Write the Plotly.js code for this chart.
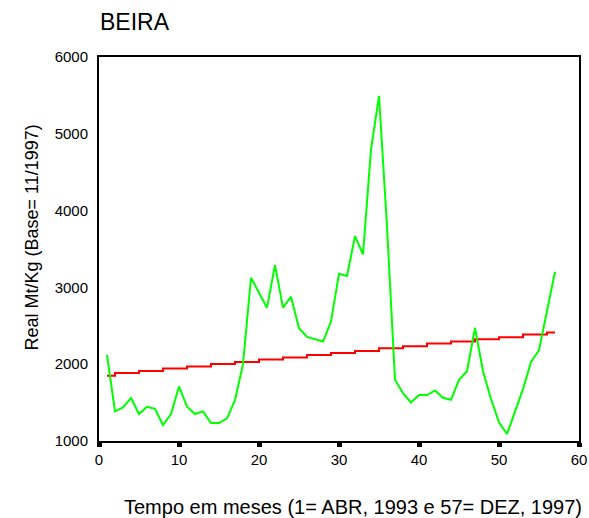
<!DOCTYPE html>
<html>
<head>
<meta charset="utf-8">
<script src="https://cdn.plot.ly/plotly-3.0.1.min.js"></script>
<style>html,body{margin:0;padding:0;background:#fff;}#chart{width:589px;height:518px;}</style>
</head>
<body>
<div id="chart"></div>
<script>
const months = Array.from({length: 57}, (_, i) => i + 1);
const priceBeira = [2121,1386,1437,1559,1351,1446,1420,1208,1351,1710,
                    1446,1351,1386,1234,1234,1294,1533,2000,3126,2931,
                    2736,3290,2736,2879,2468,2355,2325,2295,2555,3178,
                    3148,3667,3429,4793,5495,3797,1797,1623,1502,1598,
                    1598,1658,1563,1537,1797,1909,2472,1909,1546,1242,
                    1091,1381,1675,2030,2182,2693,3204];
const trendBeira = [1848,1887,1887,1887,1913,1913,1913,1943,1943,1943,
                    1969,1969,1969,2004,2004,2004,2030,2030,2030,2060,
                    2060,2060,2086,2086,2086,2121,2121,2121,2147,2147,
                    2147,2173,2173,2173,2208,2208,2208,2234,2234,2234,
                    2269,2269,2269,2295,2295,2295,2325,2325,2325,2351,
                    2351,2351,2386,2386,2386,2412,2412];
const xTicks = [0,10,20,30,40,50,60];
const yTicks = [1000,2000,3000,4000,5000,6000];
const titleText = 'BEIRA';
const xTitle = 'Tempo em meses (1= ABR, 1993 e 57= DEZ, 1997)';
const yTitle = 'Real Mt/Kg (Base= 11/1997)';

const font = 'Liberation Sans, Arial, sans-serif';

const traces = [
  {x: months, y: trendBeira, type: 'scatter', mode: 'lines',
   line: {color: '#ff0000', width: 2, shape: 'hv'}, hoverinfo: 'skip'},
  {x: months, y: priceBeira, type: 'scatter', mode: 'lines',
   line: {color: '#00ff00', width: 2}, hoverinfo: 'skip'}
];

const layout = {
  width: 589, height: 518,
  margin: {l: 99, r: 10, t: 57, b: 77, pad: 0},
  paper_bgcolor: '#fff', plot_bgcolor: '#fff',
  showlegend: false,
  font: {family: font, color: '#000', size: 15},
  title: {text: titleText, font: {family: font, size: 23, color: '#000'},
          xref: 'container', x: 100/589, xanchor: 'left',
          yref: 'container', y: 1 - 22/518, yanchor: 'middle'},
  xaxis: {range: [0, 60], tickvals: xTicks, ticktext: xTicks.map(String),
          showgrid: false, zeroline: false, showline: true, mirror: true,
          linecolor: '#000', linewidth: 2,
          ticks: 'outside', ticklen: 4, tickwidth: 5, tickcolor: '#000',
          tickfont: {family: font, size: 15, color: '#000'}},
  yaxis: {range: [1000, 6000], tickvals: yTicks, ticktext: yTicks.map(String),
          showgrid: false, zeroline: false, showline: true, mirror: true,
          linecolor: '#000', linewidth: 2, ticks: '',
          ticklabelstandoff: 6,
          tickfont: {family: font, size: 15, color: '#000'}},
  annotations: [
    {text: xTitle, xref: 'paper', yref: 'paper', x: (353-99)/480, y: (441-507)/384,
     xanchor: 'center', yanchor: 'middle', showarrow: false,
     font: {family: font, size: 20, color: '#000'}},
    {text: yTitle, xref: 'paper', yref: 'paper', x: (31-99)/480, y: (441-237.5)/384,
     xanchor: 'center', yanchor: 'middle', textangle: -90, showarrow: false,
     font: {family: font, size: 18, color: '#000'}}
  ]
};

Plotly.newPlot('chart', traces, layout, {staticPlot: true, displayModeBar: false});
</script>
</body>
</html>
